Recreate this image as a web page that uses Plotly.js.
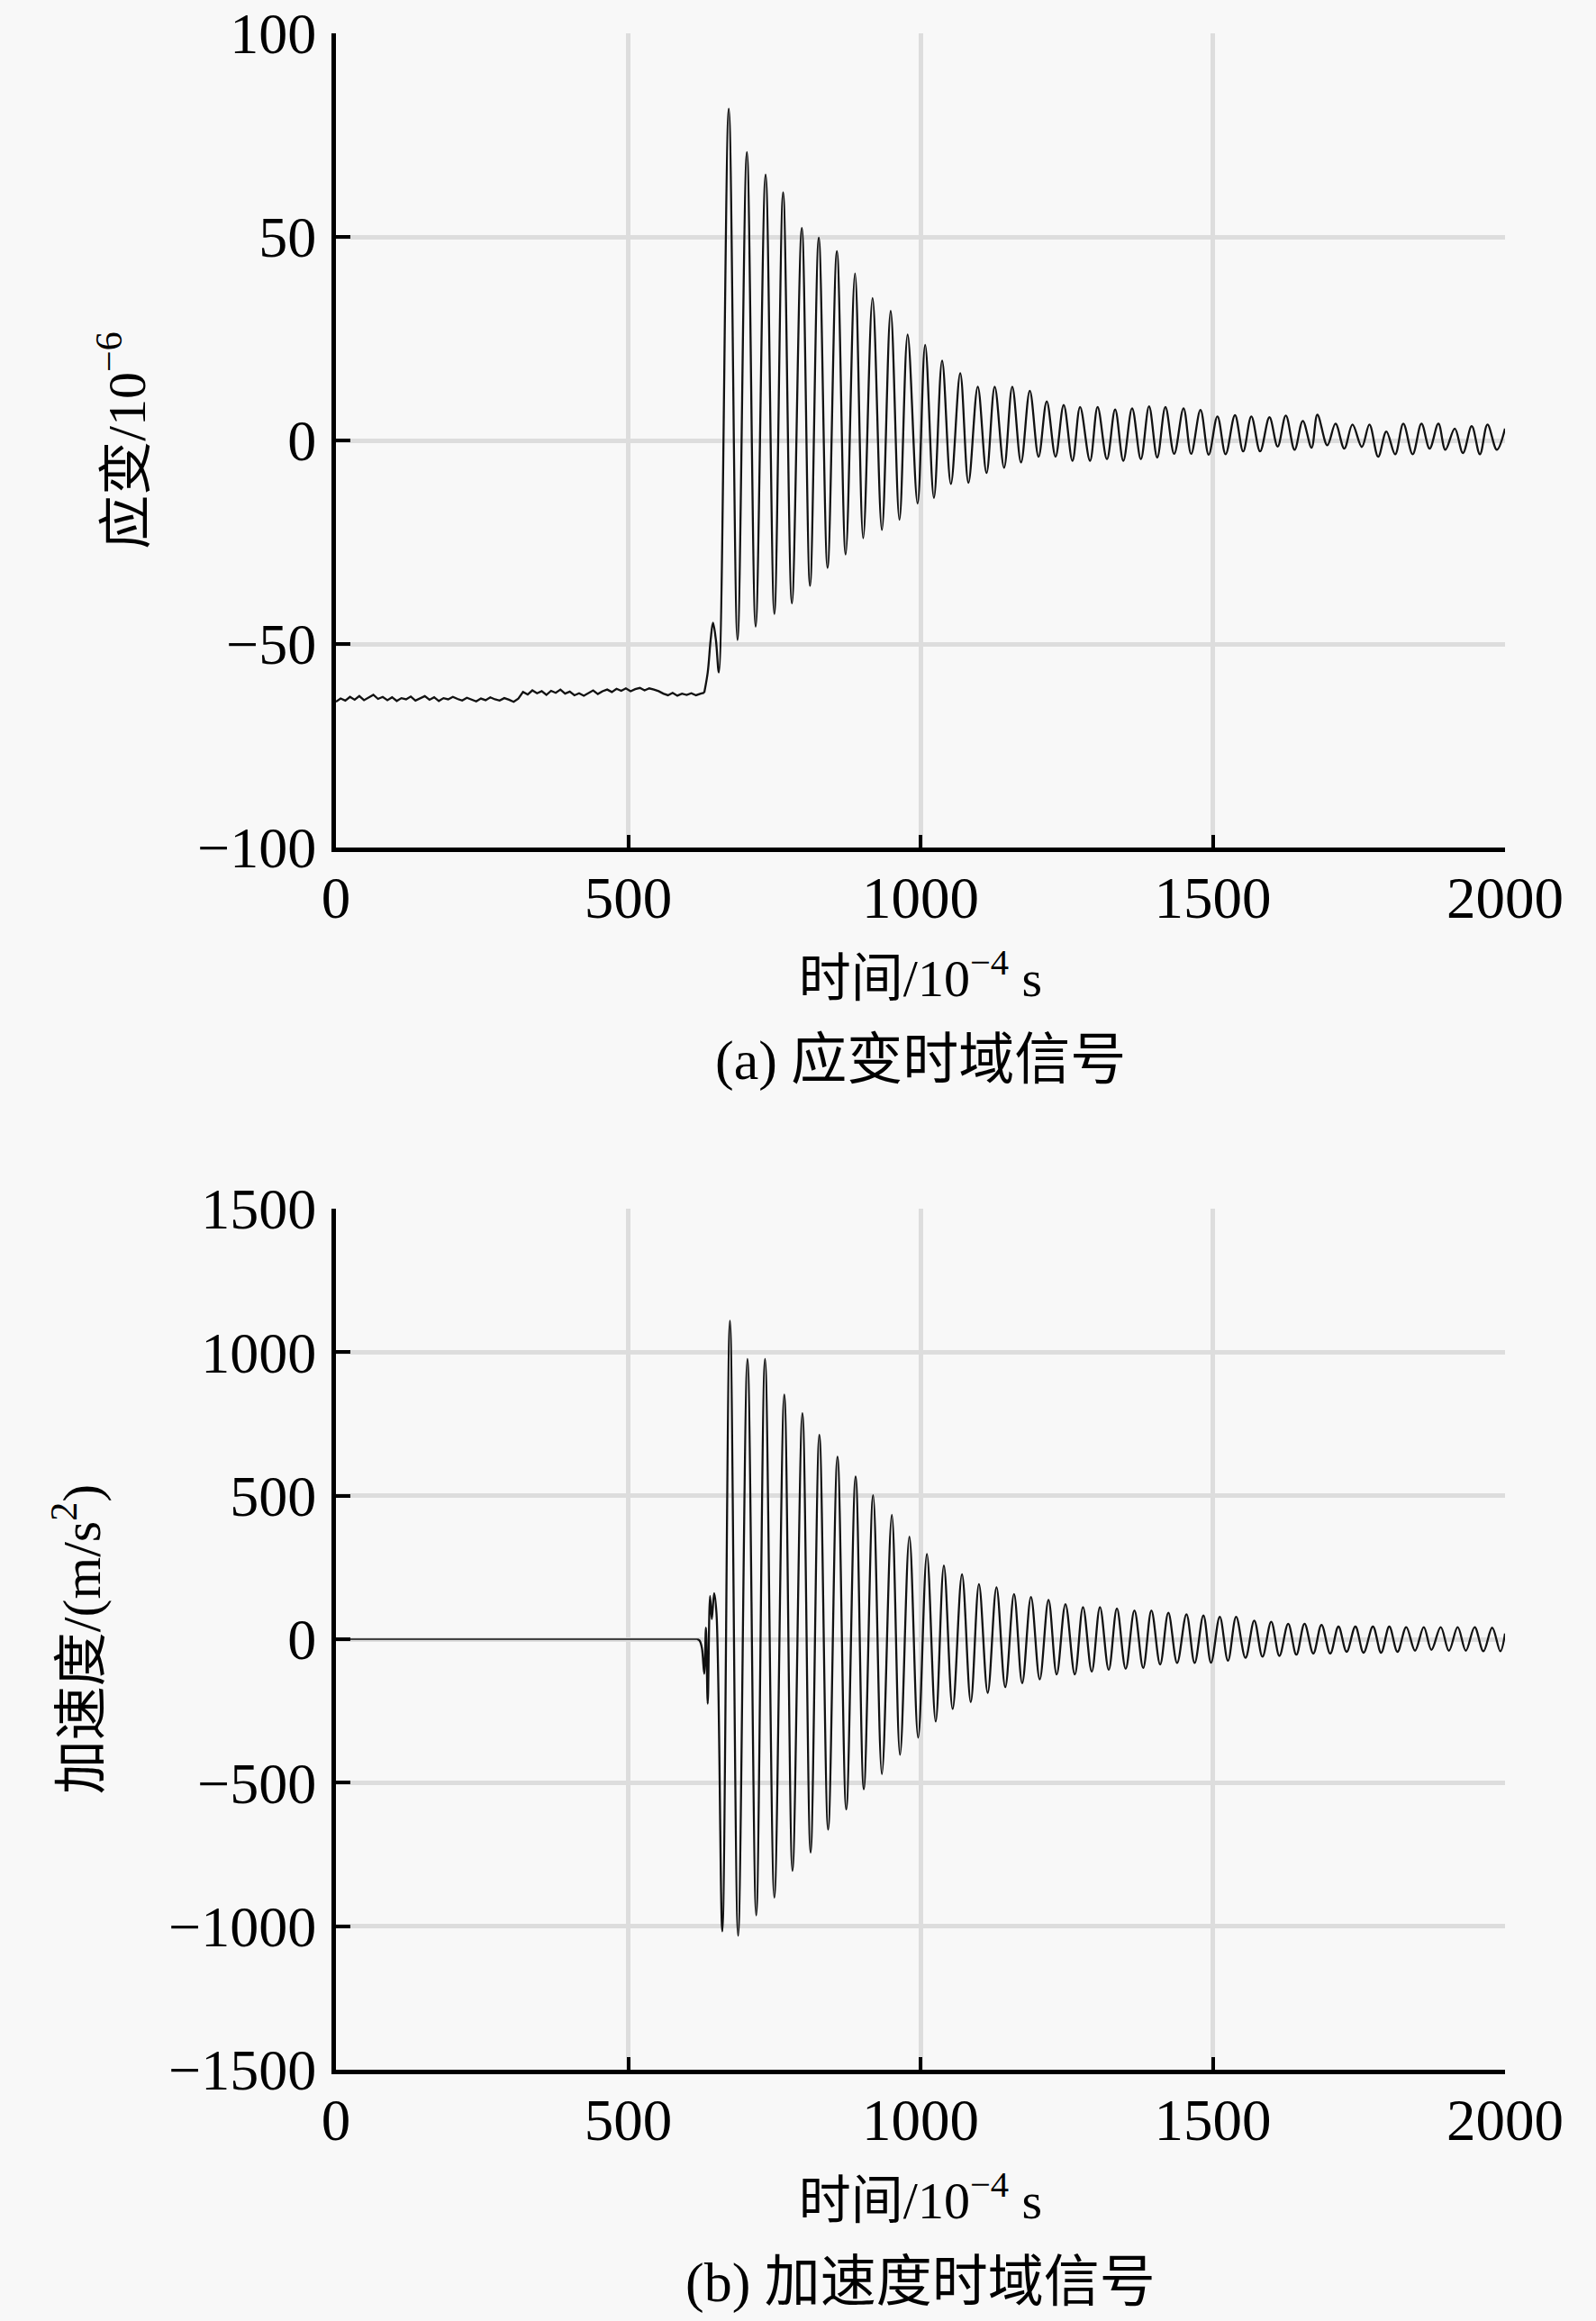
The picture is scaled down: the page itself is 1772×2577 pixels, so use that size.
<!DOCTYPE html>
<html>
<head>
<meta charset="utf-8">
<script src="https://cdn.plot.ly/plotly-3.0.1.min.js"></script>
<style>
html,body{margin:0;padding:0;background:#f8f8f8;}
#chart{width:1772px;height:2577px;}
</style>
</head>
<body>
<div id="chart"></div>
<script>
// ---------- Data ----------
// (a) strain, pre-impact baseline (time in 1e-4 s, strain in 1e-6)
const strainBaseT = [0,8,16,24,32,40,48,56,64,72,80,88,96,104,112,120,128,136,144,152,160,168,176,184,192,200,208,216,224,232,240,248,256,264,272,280,288,296,304,312,320,328,336,344,352,360,368,376,384,392,400,408,416,424,432,440,448,456,464,472,480,488,496,504,512,520,528,536,544,552,560,568,576,584,592,600,608,616,624,630];
const strainBaseV = [-64.2,-63.4,-63.9,-63.0,-63.7,-62.8,-63.8,-63.2,-62.5,-63.5,-63.0,-63.8,-63.1,-64.0,-63.3,-63.6,-62.9,-63.9,-63.4,-62.8,-63.7,-63.1,-64.0,-63.3,-63.6,-63.0,-63.5,-63.9,-63.2,-63.6,-64.1,-63.4,-63.8,-63.1,-63.6,-63.9,-63.3,-63.7,-64.2,-63.4,-61.8,-62.4,-61.4,-62.1,-61.6,-62.5,-61.5,-62.0,-61.2,-62.2,-61.7,-62.6,-62.1,-62.7,-62.0,-61.4,-62.3,-61.6,-61.2,-61.8,-61.0,-61.5,-60.9,-61.6,-61.1,-60.8,-61.4,-60.9,-61.2,-61.6,-62.2,-62.6,-62.0,-62.7,-62.2,-62.5,-62.1,-62.6,-62.2,-62.0];
// (a) strain, impact response: alternating extrema
const strainOscT = [630,636,641,645,650,655,672,687,703,718,735,750,765,780,797,811,826,841,857,872,888,902,918,934,949,964,978,995,1008,1023,1037,1052,1068,1082,1098,1113,1127,1143,1157,1172,1187,1202,1216,1231,1245,1260,1273,1290,1303,1319,1333,1347,1362,1377,1391,1405,1419,1434,1450,1463,1479,1493,1508,1522,1538,1552,1566,1581,1597,1611,1625,1640,1654,1669,1679,1696,1710,1725,1739,1755,1768,1783,1797,1812,1826,1842,1857,1871,1886,1898,1914,1928,1943,1957,1970,1986,2000];
const strainOscV = [-62.0,-57,-49,-44.8,-49,-57,81.5,-49,70.8,-45.7,65.3,-42.6,60.9,-40,52.2,-35.7,49.8,-31.3,46.5,-28,41,-24,35,-22,31.8,-19.5,26,-15.5,23.5,-14.1,19.6,-10.7,16.5,-10.4,13.2,-8,13.2,-6.7,13.2,-5.4,12.2,-4,9.6,-4,8.7,-5,8.2,-5,8.2,-4.6,7.6,-5,7.9,-4.6,8.4,-4.2,8.2,-3.3,7.9,-3.3,7.5,-3.5,5.9,-3.4,6.2,-2.7,5.9,-2.7,5.7,-1.5,6.1,-2.3,4.8,-1.8,6.3,-1.2,4.1,-2,3.9,-1.6,3.9,-4,2.2,-3.4,4.1,-3.4,4.1,-2,4.1,-2.3,2.9,-3.1,3.5,-3.4,3.9,-2.3,2.9];

// (b) acceleration, pre-impact (m/s^2)
const accBaseT = [0,200,400,618];
const accBaseV = [0,0,0,0];
// (b) acceleration, impact response: alternating extrema
const accOscT = [618,622,626,630,633,636,640,643,647,651,661,674,688,704,719,734,750,767,781,798,812,827,842,858,873,889,903,919,934,951,965,981,996,1011,1026,1040,1055,1071,1086,1100,1115,1130,1145,1160,1174,1189,1204,1219,1233,1248,1264,1278,1293,1307,1322,1336,1351,1366,1381,1395,1410,1424,1439,1455,1469,1484,1497,1512,1526,1540,1556,1571,1585,1600,1614,1629,1643,1657,1672,1686,1701,1715,1729,1744,1758,1774,1788,1802,1816,1831,1846,1861,1874,1890,1904,1919,1933,1948,1963,1978,1992,2000];
const accOscV = [0,-5,-30,-120,40,-225,150,70,160,90,-1018,1110,-1033,976,-962,976,-900,852,-807,787,-743,712,-663,636,-593,567,-523,502,-470,433,-403,357,-343,297,-287,257,-243,226,-219,192,-187,181,-167,157,-153,147,-140,137,-123,122,-123,112,-113,112,-107,107,-103,100,-100,100,-88,92,-83,87,-83,83,-82,78,-75,78,-65,65,-61,61,-58,54,-54,54,-50,50,-50,44,-44,44,-47,44,-47,44,-44,42,-40,42,-37,42,-40,42,-40,42,-42,40,-42,20];

// Tick values
const xTicks = [0,500,1000,1500,2000];
const strainTicks = [-100,-50,0,50,100];
const accTicks = [-1500,-1000,-500,0,500,1000,1500];

// ---------- Styles ----------
const LATIN = 'Liberation Serif, "Noto Sans CJK SC", serif';
const lineStyle = {color:'#111111', width:2.3};

const traces = [
  {x:strainBaseT, y:strainBaseV, type:'scatter', mode:'lines', line:Object.assign({shape:'linear'}, lineStyle), xaxis:'x', yaxis:'y', hoverinfo:'skip'},
  {x:strainOscT, y:strainOscV, type:'scatter', mode:'lines', line:Object.assign({shape:'spline', smoothing:1}, lineStyle), xaxis:'x', yaxis:'y', hoverinfo:'skip'},
  {x:accBaseT, y:accBaseV, type:'scatter', mode:'lines', line:{color:'#111111', width:1.6}, xaxis:'x2', yaxis:'y2', hoverinfo:'skip'},
  {x:accOscT, y:accOscV, type:'scatter', mode:'lines', line:Object.assign({shape:'spline', smoothing:1}, lineStyle), xaxis:'x2', yaxis:'y2', hoverinfo:'skip'}
];

function xAxis(anchor, titleText){
  return {
    anchor: anchor,
    domain: [373/1772, 1671/1772],
    range: [0, 2000],
    tickmode: 'array', tickvals: xTicks, ticktext: xTicks.map(String),
    showline: true, linecolor: '#000', linewidth: 5,
    ticks: 'inside', ticklen: 14, tickwidth: 4, tickcolor: '#000',
    showgrid: true, gridcolor: '#dddddd', gridwidth: 5,
    zeroline: false,
    tickfont: {family: LATIN, size: 65, color: '#000'},
    ticklabelstandoff: -5,
    ticklabeloverflow: 'allow',
    title: {text: titleText, font: {family: LATIN, size: 58, color: '#000'}, standoff: 35},
    automargin: false, fixedrange: true
  };
}
function yAxis(anchor, domain, range, ticks, titleText, standoff){
  return {
    anchor: anchor,
    domain: domain,
    range: range,
    tickmode: 'array', tickvals: ticks, ticktext: ticks.map(v => v < 0 ? '\u2212' + Math.abs(v) : String(v)),
    showline: true, linecolor: '#000', linewidth: 5,
    ticks: 'inside', ticklen: 16, tickwidth: 4, tickcolor: '#000',
    showgrid: true, gridcolor: '#dddddd', gridwidth: 5,
    zeroline: false,
    tickfont: {family: LATIN, size: 64, color: '#000'},
    ticklabelstandoff: 4,
    ticklabeloverflow: 'allow',
    title: {text: titleText, font: {family: LATIN, size: 60, color: '#000'}, standoff: standoff},
    automargin: false, fixedrange: true
  };
}

const layout = {
  width: 1772, height: 2577,
  margin: {l:0, r:0, t:0, b:0, pad:0},
  paper_bgcolor: '#f8f8f8', plot_bgcolor: '#f8f8f8',
  showlegend: false,
  xaxis: xAxis('y', '时间/10<sup>\u22124</sup> s'),
  yaxis: yAxis('x', [1-941/2577, 1-37/2577], [-100, 100], strainTicks, '应变/10<sup>\u22126</sup>', 40),
  xaxis2: xAxis('y2', '时间/10<sup>\u22124</sup> s'),
  yaxis2: yAxis('x2', [1-2298/2577, 1-1342/2577], [-1500, 1500], accTicks, '加速度/(m/s<sup>2</sup>)', 58),
  annotations: [
    {text: '(a) 应变时域信号', xref: 'paper', yref: 'paper', x: 1022/1772, y: 1-1177/2577, xanchor: 'center', yanchor: 'middle', showarrow: false, font: {family: LATIN, size: 62, color: '#000'}},
    {text: '(b) 加速度时域信号', xref: 'paper', yref: 'paper', x: 1022/1772, y: 1-2534/2577, xanchor: 'center', yanchor: 'middle', showarrow: false, font: {family: LATIN, size: 62, color: '#000'}}
  ]
};

Plotly.newPlot('chart', traces, layout, {staticPlot: true, displayModeBar: false});
</script>
</body>
</html>
